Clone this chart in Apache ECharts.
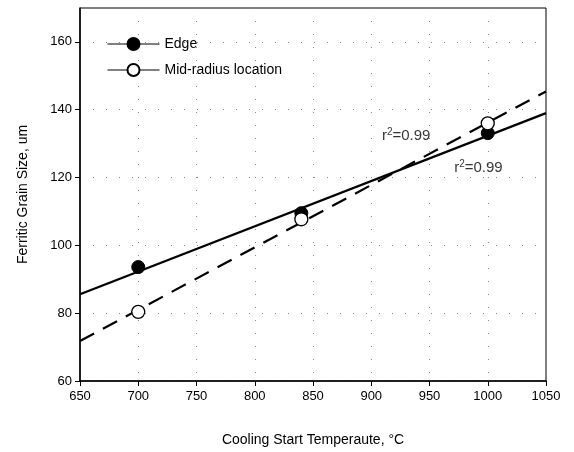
<!DOCTYPE html>
<html>
<head>
<meta charset="utf-8">
<script src="https://cdn.jsdelivr.net/npm/echarts@6/dist/echarts.min.js"></script>
<style>
  html, body { margin: 0; padding: 0; background: #fff; }
  #chart { width: 574px; height: 452px; }
</style>
</head>
<body>
<div id="chart"></div>
<script>
// measured points
var edgeX = [700, 840, 1000];
var edgeY = [93.6, 109.5, 133.1];
var midX = [700, 840, 1000];
var midY = [80.4, 107.7, 136];

// regression lines, end values at x = 650 and 1050
var fitX = [650, 1050];
var edgeFit = [85.6, 139];
var midFit = [71.8, 145.4];

var xTicks = [650, 700, 750, 800, 850, 900, 950, 1000, 1050];
var yTicks = [60, 80, 100, 120, 140, 160];

// r^2 labels: [x, y, text]
var notes = [
  [930, 132.5, '0.99'],
  [992, 122.9, '0.99']
];

function pairs(xs, ys) {
  return xs.map(function (x, i) { return [x, ys[i]]; });
}

var font = 'Liberation Sans, Arial, sans-serif';
var dotted = { color: '#888', width: 1, type: [1, 12] };

var option = {
  animation: false,
  textStyle: { fontFamily: font },
  grid: {
    left: 80, right: 28, top: 8, bottom: 67,
    show: true, borderColor: '#000', borderWidth: 1
  },
  legend: {
    left: 102, top: 32,
    orient: 'vertical',
    itemWidth: 52, itemHeight: 15, itemGap: 12,
    textStyle: { fontSize: 14, color: '#000', fontFamily: font },
    lineStyle: { color: '#000', width: 1, opacity: 1 },
    data: ['Edge', 'Mid-radius location']
  },
  xAxis: {
    type: 'value', min: 650, max: 1050, interval: 50,
    name: 'Cooling Start Temperaute, \u00B0C',
    nameLocation: 'middle', nameGap: 52,
    nameTextStyle: { fontSize: 14, color: '#000' },
    axisLine: { lineStyle: { color: '#000', width: 1.5 } },
    axisTick: { inside: false, length: 5, lineStyle: { color: '#000' }, customValues: xTicks },
    axisLabel: {
      fontSize: 13, color: '#000', margin: 9, customValues: xTicks,
      formatter: function (v) { return String(v); }
    },
    splitLine: { show: true, lineStyle: dotted }
  },
  yAxis: {
    type: 'value', min: 60, max: 170, interval: 20,
    name: 'Ferritic Grain Size, um',
    nameLocation: 'middle', nameGap: 50,
    nameTextStyle: { fontSize: 14, color: '#000' },
    axisLine: { lineStyle: { color: '#000', width: 1.5 } },
    axisTick: { inside: false, length: 5, lineStyle: { color: '#000' }, customValues: yTicks },
    axisLabel: {
      fontSize: 13, color: '#000', margin: 8, customValues: yTicks,
      formatter: function (v) { return String(v); }
    },
    splitLine: { show: true, lineStyle: dotted }
  },
  series: [
    {
      name: 'edgeFit', type: 'line', data: pairs(fitX, edgeFit),
      showSymbol: false, silent: true, z: 2,
      lineStyle: { color: '#000', width: 2.2 }
    },
    {
      name: 'midFit', type: 'line', data: pairs(fitX, midFit),
      showSymbol: false, silent: true, z: 2,
      lineStyle: { color: '#000', width: 2.2, type: [16, 10] }
    },
    {
      name: 'Edge', type: 'line', data: pairs(edgeX, edgeY),
      symbol: 'circle', symbolSize: 13, z: 3,
      lineStyle: { width: 0, opacity: 0 },
      itemStyle: { color: '#000', borderColor: '#000', borderWidth: 1 }
    },
    {
      name: 'Mid-radius location', type: 'line', data: pairs(midX, midY),
      symbol: 'circle', symbolSize: 13, z: 4,
      lineStyle: { width: 0, opacity: 0 },
      itemStyle: { color: '#fff', borderColor: '#000', borderWidth: 1.3 }
    },
    {
      name: 'notes', type: 'scatter', symbolSize: 0, silent: true, z: 5,
      data: notes.map(function (n) { return { value: [n[0], n[1]], txt: n[2] }; }),
      label: {
        show: true, position: 'inside', fontSize: 14, color: '#000', fontFamily: font,
        formatter: function (p) { return '{r|r}{s|2}{t|=' + p.data.txt + '}'; },
        rich: {
          r: { fontSize: 15, color: '#000', fontFamily: font, lineHeight: 16, verticalAlign: 'bottom' },
          s: { fontSize: 10, color: '#000', fontFamily: font, lineHeight: 16, verticalAlign: 'top' },
          t: { fontSize: 15, color: '#000', fontFamily: font, lineHeight: 16, verticalAlign: 'bottom' }
        }
      }
    }
  ]
};

var chart = echarts.init(document.getElementById('chart'));
chart.setOption(option);
</script>
</body>
</html>
